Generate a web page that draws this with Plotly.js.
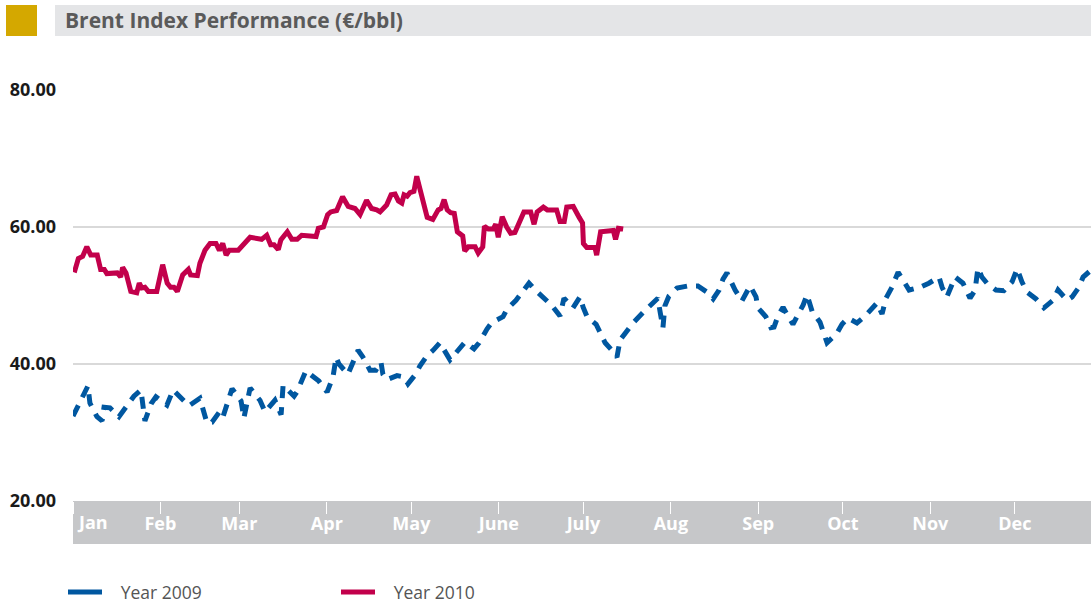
<!DOCTYPE html>
<html>
<head>
<meta charset="utf-8">
<script src="https://cdn.plot.ly/plotly-3.0.1.min.js"></script>
<style>
  html, body { margin: 0; padding: 0; background: #ffffff; }
  #chart { width: 1091px; height: 606px; }
</style>
</head>
<body>
<div id="chart"></div>
<script>
// ---- Data (day of year, €/bbl) ----
const chartTitle = 'Brent Index Performance (€/bbl)';
const monthLabels = ['Jan','Feb','Mar','Apr','May','June','July','Aug','Sep','Oct','Nov','Dec'];
const monthStartDays = [0,31,59,90,120,151,181,212,243,273,304,334];
const yTicks = [20, 40, 60, 80];

const seriesNames = ['Year 2009', 'Year 2010'];

const days2009 = [0,5.3,6.0,8.5,10.3,11.0,13.1,16.3,21.6,24.1,25.5,27.7,29.4,33.3,35.5,39.0,41.1,45.0,47.5,49.3,
  52.1,53.2,56.4,59.6,60.6,62.8,66.3,68.1,71.6,73.8,74.5,78.4,79.4,82.6,87.2,90.1,92.2,93.3,94.3,97.5,
  98.9,101.1,102.8,105.3,107.4,109.2,109.9,111.3,114.9,117.4,118.8,121.3,123.0,125.5,127.7,130.1,133.7,136.9,139.0,142.2,
  144.0,146.8,148.6,152.5,153.9,157.1,159.2,161.7,164.2,167.4,169.9,172.7,174.1,177.3,179.8,180.9,182.3,185.5,187.2,188.7,
  191.1,192.9,194.0,196.5,198.6,202.1,203.9,207.4,208.2,209.2,209.9,211.3,214.2,218.1,221.6,224.8,227.0,229.1,230.5,231.9,
  234.8,237.2,240.1,242.2,242.9,245.7,247.5,248.6,250.0,251.8,253.5,255.3,257.1,258.9,260.3,262.1,264.9,266.0,267.4,270.9,
  272.7,274.8,278.0,280.9,283.7,285.1,286.9,288.3,290.4,292.6,294.7,296.5,300.4,303.5,307.1,308.2,309.9,312.8,315.6,318.1,
  319.9,320.9,322.3,324.1,327.3,330.1,333.0,334.8,336.5,338.3,341.5,344.3,347.5,349.3,352.5,354.3,356.7,358.2,361.0];
const values2009 = [32.4,36.8,34.3,32.3,31.7,33.7,33.6,32.3,35.3,36.2,31.7,34.2,35.2,34.0,36.2,34.7,33.9,35.0,31.4,31.5,
  33.1,32.3,36.4,34.6,32.1,36.5,34.7,33.0,34.7,32.6,36.9,35.3,35.9,39.0,37.5,35.9,38.1,41.0,40.0,38.5,
  39.9,42.0,41.0,39.1,39.1,40.3,38.5,37.7,38.3,38.1,37.1,38.4,39.7,41.2,42.0,43.1,40.6,42.2,43.2,42.2,
  43.1,45.1,46.1,46.9,48.0,49.3,50.5,51.8,50.7,49.5,48.5,47.0,49.6,48.2,49.8,48.3,46.9,45.8,44.5,43.1,
  42.0,41.0,43.5,44.8,46.0,47.5,48.3,49.6,47.6,45.3,48.5,49.9,51.1,51.4,51.4,50.5,49.5,50.8,52.4,53.3,
  50.8,49.2,51.4,49.8,48.2,46.9,45.3,45.4,47.0,48.3,47.0,45.8,47.2,48.6,50.1,47.7,46.1,44.7,43.1,44.5,
  45.8,46.7,46.0,47.0,48.3,48.9,47.3,49.6,51.2,53.4,52.0,50.8,51.2,51.8,52.7,51.2,49.8,52.7,51.8,49.6,
  50.8,54.0,52.7,51.8,50.8,50.7,52.0,53.9,52.0,50.5,49.5,48.2,49.3,50.8,49.3,49.8,51.2,52.7,53.7];

const days2010 = [0,0.7,1.9,3.4,4.9,6.3,8.6,9.8,11.1,12.0,15.7,16.9,17.6,18.8,20.5,22.6,23.5,24.4,25.5,26.7,
  29.7,31.8,33.4,34.6,35.8,37.0,38.9,40.9,41.7,44.1,45.0,46.8,48.6,50.7,51.9,53.1,54.3,55.4,58.6,62.8,
  66.9,68.7,70.1,71.3,72.8,73.7,76.0,77.6,79.5,81.1,86.2,87.0,88.8,90.3,91.4,93.5,95.6,96.9,97.6,100.0,
  101.8,104.1,105.9,107.7,108.9,111.2,112.8,114.2,115.4,116.6,117.4,118.5,119.5,120.9,121.9,123.0,124.2,125.6,127.6,129.5,
  130.5,131.6,132.7,133.9,135.2,136.3,138.2,138.9,140.2,142.6,143.7,145.3,145.9,147.3,149.0,149.9,150.8,152.2,153.8,155.2,
  156.7,159.9,162.3,163.5,164.6,166.8,168.2,171.5,172.7,174.2,175.1,177.4,179.5,180.7,181.0,182.2,185.1,185.7,187.1,189.5,
  191.6,192.4,193.4,195.1];
const values2010 = [53.8,53.7,55.4,55.7,57.1,55.9,55.9,53.8,53.8,53.2,53.3,52.7,54.1,53.3,50.6,50.4,51.8,51.1,51.2,50.6,
  50.6,54.5,51.8,51.2,51.2,50.6,53.0,53.8,53.0,52.9,54.7,56.6,57.6,57.6,56.6,57.6,55.9,56.6,56.6,58.5,
  58.2,58.8,57.4,57.4,56.7,58.1,59.3,58.2,58.2,58.8,58.6,59.8,60.0,61.8,62.2,62.4,64.4,63.6,63.0,62.7,
  61.8,63.9,62.7,62.5,62.2,63.2,64.7,64.8,63.8,63.5,64.7,64.5,65.0,65.2,67.4,65.6,63.7,61.4,61.1,62.5,
  62.7,64.0,62.5,62.1,62.0,59.3,58.7,56.5,57.1,57.1,56.2,57.1,60.1,59.7,59.7,60.4,58.5,61.5,60.0,59.1,
  59.2,62.2,62.2,60.4,62.2,62.9,62.5,62.5,60.8,60.8,62.9,63.0,61.4,60.6,57.6,57.0,57.0,55.9,59.3,59.5,
  59.5,58.2,59.8,59.7];

// ---- Styles ----
const BLUE = '#0057a0';
const RED = '#c2004b';
const FONT = '"Open Sans", "Noto Sans", sans-serif';
const LEGEND_PAD = '\u00a0\u00a0\u00a0';

const traces = [
  { x: days2009, y: values2009, type: 'scatter', mode: 'lines', name: seriesNames[0],
    line: { color: BLUE, width: 5, dash: '12px,9px' }, showlegend: false },
  { x: days2010, y: values2010, type: 'scatter', mode: 'lines', name: seriesNames[1],
    line: { color: RED, width: 5 }, showlegend: false },
  // legend entries (solid swatches as in the original legend)
  { x: [null], y: [null], type: 'scatter', mode: 'lines', name: LEGEND_PAD + seriesNames[0],
    line: { color: BLUE, width: 5 }, showlegend: true },
  { x: [null], y: [null], type: 'scatter', mode: 'lines', name: LEGEND_PAD + seriesNames[1],
    line: { color: RED, width: 5 }, showlegend: true }
];

const plotH = 411; // px height of the plot area (for paper conversions)
const plotW = 1018;
const px2py = (py) => (501 - py) / plotH;
const px2px = (px) => (px - 73) / plotW;

const layout = {
  width: 1091, height: 606,
  margin: { l: 73, r: 0, t: 90, b: 105, autoexpand: false },
  paper_bgcolor: '#ffffff', plot_bgcolor: 'rgba(0,0,0,0)',
  font: { family: FONT, color: '#333' },
  title: {
    text: '<b>' + chartTitle + '</b>',
    font: { family: FONT, size: 21, color: '#5a5a5a' },
    xref: 'container', yref: 'container',
    x: 65 / 1091, xanchor: 'left', y: 1 - 21 / 606, yanchor: 'middle'
  },
  xaxis: {
    range: [0, 361], fixedrange: true,
    showgrid: false, zeroline: false, showline: false,
    tickmode: 'array', tickvals: monthStartDays,
    ticktext: monthLabels.map((m, i) => i === 0 ? '' : '<b>' + m + '</b>'),
    ticks: 'outside', ticklen: 12, tickwidth: 1, tickcolor: '#ffffff',
    ticklabelstandoff: -6,
    tickfont: { family: FONT, size: 18, color: '#ffffff' }
  },
  yaxis: {
    range: [20, 80], fixedrange: true,
    tickmode: 'array', tickvals: yTicks, tickformat: '.2f',
    showgrid: true, gridcolor: '#d9d9d9', gridwidth: 2,
    zeroline: false, showline: false, ticks: '',
    ticklabelstandoff: 16,
    tickfont: { family: FONT, size: 18, color: '#1a1a1a', weight: 'bold' }
  },
  shapes: [
    // gold square
    { type: 'rect', xref: 'paper', yref: 'paper', layer: 'below',
      x0: px2px(6), x1: px2px(37), y0: px2py(36), y1: px2py(5),
      fillcolor: '#d4a800', line: { width: 0 } },
    // title bar
    { type: 'rect', xref: 'paper', yref: 'paper', layer: 'below',
      x0: px2px(55), x1: 1, y0: px2py(36), y1: px2py(5),
      fillcolor: '#e4e5e7', line: { width: 0 } },
    // month band under the plot
    { type: 'rect', xref: 'paper', yref: 'paper', layer: 'below',
      x0: 0, x1: 1, y0: px2py(544), y1: 0,
      fillcolor: '#c6c7c9', line: { width: 0 } }
  ],
  annotations: [
    { text: '<b>' + monthLabels[0] + '</b>', xref: 'x', yref: 'paper',
      x: monthStartDays[0], xanchor: 'left', xshift: 2,
      y: px2py(522), yanchor: 'middle', showarrow: false,
      font: { family: FONT, size: 18, color: '#ffffff' } }
  ],
  showlegend: true,
  legend: {
    orientation: 'h', x: px2px(63), xanchor: 'left', y: px2py(592), yanchor: 'middle',
    font: { family: FONT, size: 17.5, color: '#555555' },
    entrywidth: 224, entrywidthmode: 'pixels',
    itemwidth: 34, bgcolor: 'rgba(0,0,0,0)', borderwidth: 0, tracegroupgap: 0
  },
  hovermode: false
};

Plotly.newPlot('chart', traces, layout, { displayModeBar: false, staticPlot: true });
</script>
</body>
</html>
